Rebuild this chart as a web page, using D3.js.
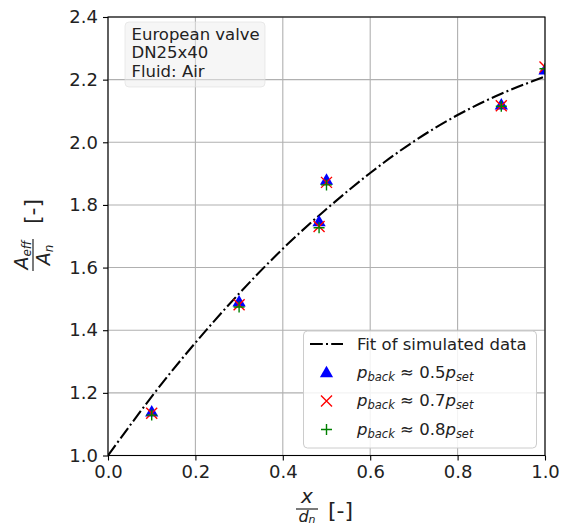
<!DOCTYPE html>
<html>
<head>
<meta charset="utf-8">
<script src="https://cdn.jsdelivr.net/npm/d3@7"></script>
<style>
  body { margin: 0; background: #fff; }
  svg { display: block; font-family: "DejaVu Sans", sans-serif; }
</style>
</head>
<body>
<svg id="chart" width="562" height="528"></svg>
<script>
// ---- data ----
const xTicks = [0.0, 0.2, 0.4, 0.6, 0.8, 1.0];
const yTicks = [1.0, 1.2, 1.4, 1.6, 1.8, 2.0, 2.2, 2.4];
const fitX = [0.0, 0.1, 0.2, 0.3, 0.4, 0.5, 0.6, 0.7, 0.8, 0.9, 1.0];
const fitY = [1.0, 1.188, 1.36, 1.517, 1.66, 1.787, 1.902, 2.003, 2.087, 2.155, 2.21];
const measX = [0.1, 0.3, 0.483, 0.5, 0.9, 1.0];
const series05 = [1.14, 1.491, 1.747, 1.880, 2.120, 2.232];
const series07 = [1.135, 1.481, 1.731, 1.872, 2.117, 2.240];
const series08 = [1.129, 1.474, 1.727, 1.864, 2.115, 2.235];
const infoLines = ["European valve", "DN25x40", "Fluid: Air"];
const legendLabel = "Fit of simulated data";
const pvals = ["0.5", "0.7", "0.8"];

// ---- layout ----
const svg = d3.select("#chart");
const L = 108, R = 545, T = 17, B = 455.5;
const FS = 16.5;
const x = d3.scaleLinear().domain([0, 1]).range([L, R]);
const y = d3.scaleLinear().domain([1.0, 2.4]).range([B, T]);

svg.append("defs").append("clipPath").attr("id", "clip")
  .append("rect").attr("x", L).attr("y", T).attr("width", R - L).attr("height", B - T);

// grid
const grid = svg.append("g");
grid.selectAll(".gx").data(xTicks).join("line")
  .attr("x1", d => x(d)).attr("x2", d => x(d)).attr("y1", T).attr("y2", B)
  .attr("stroke", "#b0b0b0").attr("stroke-width", 1.1);
grid.selectAll(".gy").data(yTicks).join("line")
  .attr("y1", d => y(d)).attr("y2", d => y(d)).attr("x1", L).attr("x2", R)
  .attr("stroke", "#b0b0b0").attr("stroke-width", 1.1);

// axes
const xAxis = svg.append("g").attr("transform", `translate(0,${B})`)
  .call(d3.axisBottom(x).tickValues(xTicks).tickFormat(d3.format(".1f")).tickSize(5).tickPadding(5));
const yAxis = svg.append("g").attr("transform", `translate(${L},0)`)
  .call(d3.axisLeft(y).tickValues(yTicks).tickFormat(d3.format(".1f")).tickSize(5).tickPadding(5));
[xAxis, yAxis].forEach(a => {
  a.select(".domain").remove();
  a.selectAll(".tick line").attr("stroke", "#000").attr("stroke-width", 1.1);
  a.selectAll(".tick text").attr("font-size", 18).attr("fill", "#222")
    .attr("font-family", "DejaVu Sans, sans-serif");
});

// plot content
const plot = svg.append("g").attr("clip-path", "url(#clip)");
const line = d3.line().x(d => x(d[0])).y(d => y(d[1])).curve(d3.curveNatural);
plot.append("path").datum(fitX.map((v, i) => [v, fitY[i]]))
  .attr("d", line).attr("fill", "none").attr("stroke", "#000")
  .attr("stroke-width", 2.1).attr("stroke-dasharray", "12.8,3.2,2,3.2");

const tri = d3.symbol().type(d3.symbolTriangle).size(76);
function drawTri(g, cx, cy) {
  g.append("path").attr("d", tri()).attr("transform", `translate(${cx},${cy + 1})`).attr("fill", "#0000ff");
}
function drawX(g, cx, cy) {
  const s = 5.5;
  g.append("path").attr("d", `M${cx - s},${cy - s}L${cx + s},${cy + s}M${cx - s},${cy + s}L${cx + s},${cy - s}`)
    .attr("stroke", "#ff0000").attr("stroke-width", 1.4).attr("fill", "none");
}
function drawPlus(g, cx, cy) {
  const s = 5.5;
  g.append("path").attr("d", `M${cx - s},${cy}L${cx + s},${cy}M${cx},${cy - s}L${cx},${cy + s}`)
    .attr("stroke", "#008000").attr("stroke-width", 1.4).attr("fill", "none");
}
measX.forEach((v, i) => drawTri(plot, x(v), y(series05[i])));
measX.forEach((v, i) => drawX(plot, x(v), y(series07[i])));
measX.forEach((v, i) => drawPlus(plot, x(v), y(series08[i])));

// frame
svg.append("rect").attr("x", L).attr("y", T).attr("width", R - L).attr("height", B - T)
  .attr("fill", "none").attr("stroke", "#000").attr("stroke-width", 1.1);

// info box
svg.append("rect").attr("x", 125).attr("y", 22).attr("width", 140).attr("height", 65)
  .attr("rx", 4).attr("fill", "#eeeeee").attr("fill-opacity", 0.5)
  .attr("stroke", "#dddddd").attr("stroke-opacity", 0.6);
svg.append("g").selectAll("text").data(infoLines).join("text")
  .attr("x", 131.5).attr("y", (d, i) => 39.5 + i * 18.8)
  .attr("font-size", FS).attr("fill", "#222").text(d => d);

// legend
const lg = svg.append("g");
lg.append("rect").attr("x", 303.5).attr("y", 331).attr("width", 233).attr("height", 117)
  .attr("rx", 4).attr("fill", "#fff").attr("fill-opacity", 0.85)
  .attr("stroke", "#cccccc");
const rows = [344, 372.5, 401, 429.5];
lg.append("line").attr("x1", 310).attr("x2", 343).attr("y1", rows[0]).attr("y2", rows[0])
  .attr("stroke", "#000").attr("stroke-width", 2.1).attr("stroke-dasharray", "12.8,3.2,2,3.2");
drawTri(lg, 326.5, rows[1]);
drawX(lg, 326.5, rows[2]);
drawPlus(lg, 326.5, rows[3]);
lg.append("text").attr("x", 357).attr("y", rows[0] + 6).attr("font-size", FS).attr("fill", "#222")
  .text(legendLabel);
pvals.forEach((p, i) => {
  const t = lg.append("text").attr("x", 357).attr("y", rows[i + 1] + 5)
    .attr("font-size", FS).attr("fill", "#222");
  t.append("tspan").attr("font-style", "italic").text("p");
  t.append("tspan").attr("font-style", "italic").attr("font-size", 11.5).attr("dy", 3).text("back");
  t.append("tspan").attr("dy", -3).text(" ≈ " + p);
  t.append("tspan").attr("font-style", "italic").text("p");
  t.append("tspan").attr("font-style", "italic").attr("font-size", 11.5).attr("dy", 3).text("set");
});

// x label: x/d_n [-]
const xl = svg.append("g");
xl.append("text").attr("x", 307).attr("y", 503).attr("text-anchor", "middle")
  .attr("font-size", 20).attr("font-style", "italic").attr("fill", "#222").text("x");
xl.append("line").attr("x1", 296).attr("x2", 318).attr("y1", 509).attr("y2", 509)
  .attr("stroke", "#222").attr("stroke-width", 1.2);
const dn = xl.append("text").attr("x", 307).attr("y", 521.5).attr("text-anchor", "middle")
  .attr("font-size", 16).attr("font-style", "italic").attr("fill", "#222");
dn.append("tspan").text("d");
dn.append("tspan").attr("font-size", 11).attr("dy", 1).text("n");
xl.append("text").attr("x", 328).attr("y", 518).attr("font-size", 22).attr("fill", "#222").text("[-]");

// y label: A_eff/A_n [-], rotated
const yl = svg.append("g").attr("transform", "translate(33,236) rotate(-90)");
const num = yl.append("text").attr("x", -19).attr("y", -5).attr("text-anchor", "middle")
  .attr("font-size", 19).attr("fill", "#222");
num.append("tspan").attr("font-style", "italic").text("A");
num.append("tspan").attr("font-style", "italic").attr("font-size", 12).attr("dy", 3).text("eff");
yl.append("line").attr("x1", -35).attr("x2", -3).attr("y1", 0).attr("y2", 0)
  .attr("stroke", "#222").attr("stroke-width", 1.2);
const den = yl.append("text").attr("x", -19).attr("y", 17).attr("text-anchor", "middle")
  .attr("font-size", 19).attr("fill", "#222");
den.append("tspan").attr("font-style", "italic").text("A");
den.append("tspan").attr("font-style", "italic").attr("font-size", 12).attr("dy", 3).text("n");
yl.append("text").attr("x", 12).attr("y", 7).attr("font-size", 22).attr("fill", "#222").text("[-]");
</script>
</body>
</html>
